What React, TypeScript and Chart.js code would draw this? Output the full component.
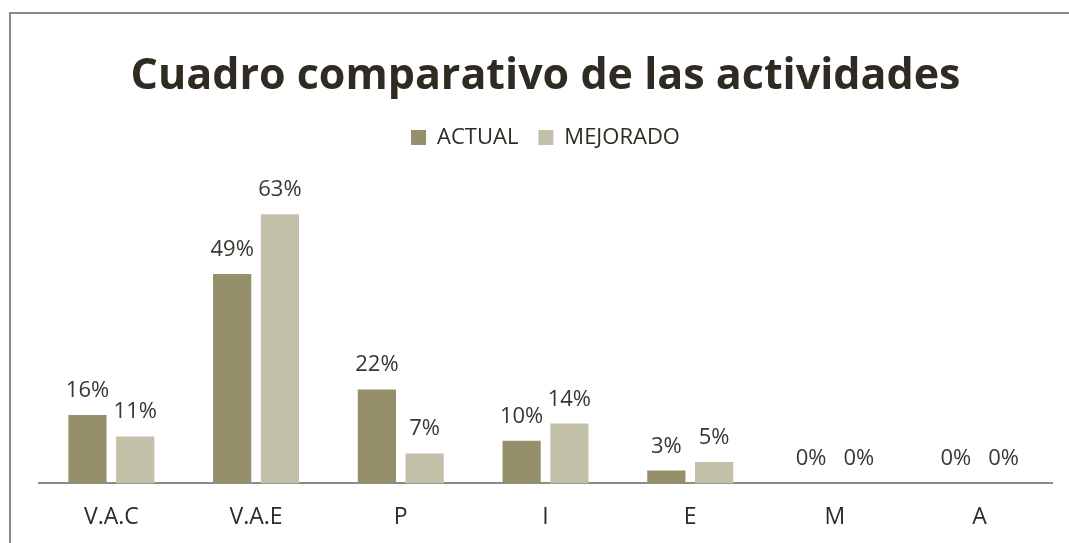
import React, { useEffect, useRef } from "react";
import { Chart, registerables } from "chart.js";

Chart.register(...registerables);

const categories = ["V.A.C", "V.A.E", "P", "I", "E", "M", "A"];
const actualValues = [16, 49, 22, 10, 3, 0, 0];
const mejoradoValues = [11, 63, 7, 14, 5, 0, 0];
const seriesNames = ["ACTUAL", "MEJORADO"];
const titleText = "Cuadro comparativo de las actividades";

const FONT = "'Open Sans', 'Noto Sans', sans-serif";
const TEXT = "#2f2b22";

const valueLabels = {
  id: "valueLabels",
  afterDatasetsDraw(chart: any) {
    const ctx = chart.ctx;
    ctx.save();
    ctx.font = `22px ${FONT}`;
    ctx.fillStyle = "#3a3630";
    ctx.textAlign = "center";
    ctx.textBaseline = "alphabetic";
    chart.data.datasets.forEach((ds: any, di: number) => {
      const meta = chart.getDatasetMeta(di);
      meta.data.forEach((bar: any, i: number) => {
        ctx.fillText(`${ds.data[i]}%`, bar.x, bar.y - 18);
      });
    });
    ctx.restore();
  },
};

export default function App() {
  const ref = useRef<HTMLCanvasElement>(null);
  useEffect(() => {
    const chart = new Chart(ref.current!, {
      type: "bar",
      data: {
        labels: categories,
        datasets: [
          {
            label: seriesNames[0],
            data: actualValues,
            backgroundColor: "#968f6b",
            categoryPercentage: 0.66,
            barPercentage: 0.8,
          },
          {
            label: seriesNames[1],
            data: mejoradoValues,
            backgroundColor: "#c3c0a9",
            categoryPercentage: 0.66,
            barPercentage: 0.8,
          },
        ],
      },
      options: {
        animation: false,
        responsive: false,
        layout: { padding: { left: 39, right: 17, top: 0, bottom: 0 } },
        plugins: {
          title: {
            display: true,
            text: titleText,
            color: TEXT,
            font: { family: FONT, size: 43, weight: "bold" },
            padding: { top: 51, bottom: 4 },
          },
          legend: {
            display: true,
            labels: {
              color: TEXT,
              font: { family: FONT, size: 22 },
              boxWidth: 15,
              boxHeight: 15,
              padding: 20,
            },
          },
          tooltip: { enabled: false },
        },
        scales: {
          x: {
            grid: { display: false },
            border: { display: true, color: "#8c8c8c", width: 2 },
            ticks: {
              color: TEXT,
              font: { family: FONT, size: 23 },
              padding: 12,
            },
          },
          y: {
            display: false,
            min: 0,
            max: 76,
          },
        },
      },
      plugins: [valueLabels],
    });
    return () => chart.destroy();
  }, []);
  return (
    <div
      style={{
        position: "absolute",
        left: 0,
        top: 0,
        width: 1069,
        height: 543,
        overflow: "hidden",
        background: "#fff",
      }}
    >
      <div
        style={{
          position: "absolute",
          left: 9,
          top: 12,
          width: 1100,
          height: 600,
          borderLeft: "2px solid #8a8a8a",
          borderTop: "2px solid #8a8a8a",
        }}
      />
      <canvas
        ref={ref}
        width={1069}
        height={543}
        style={{ position: "absolute", left: 0, top: 0 }}
      />
    </div>
  );
}
